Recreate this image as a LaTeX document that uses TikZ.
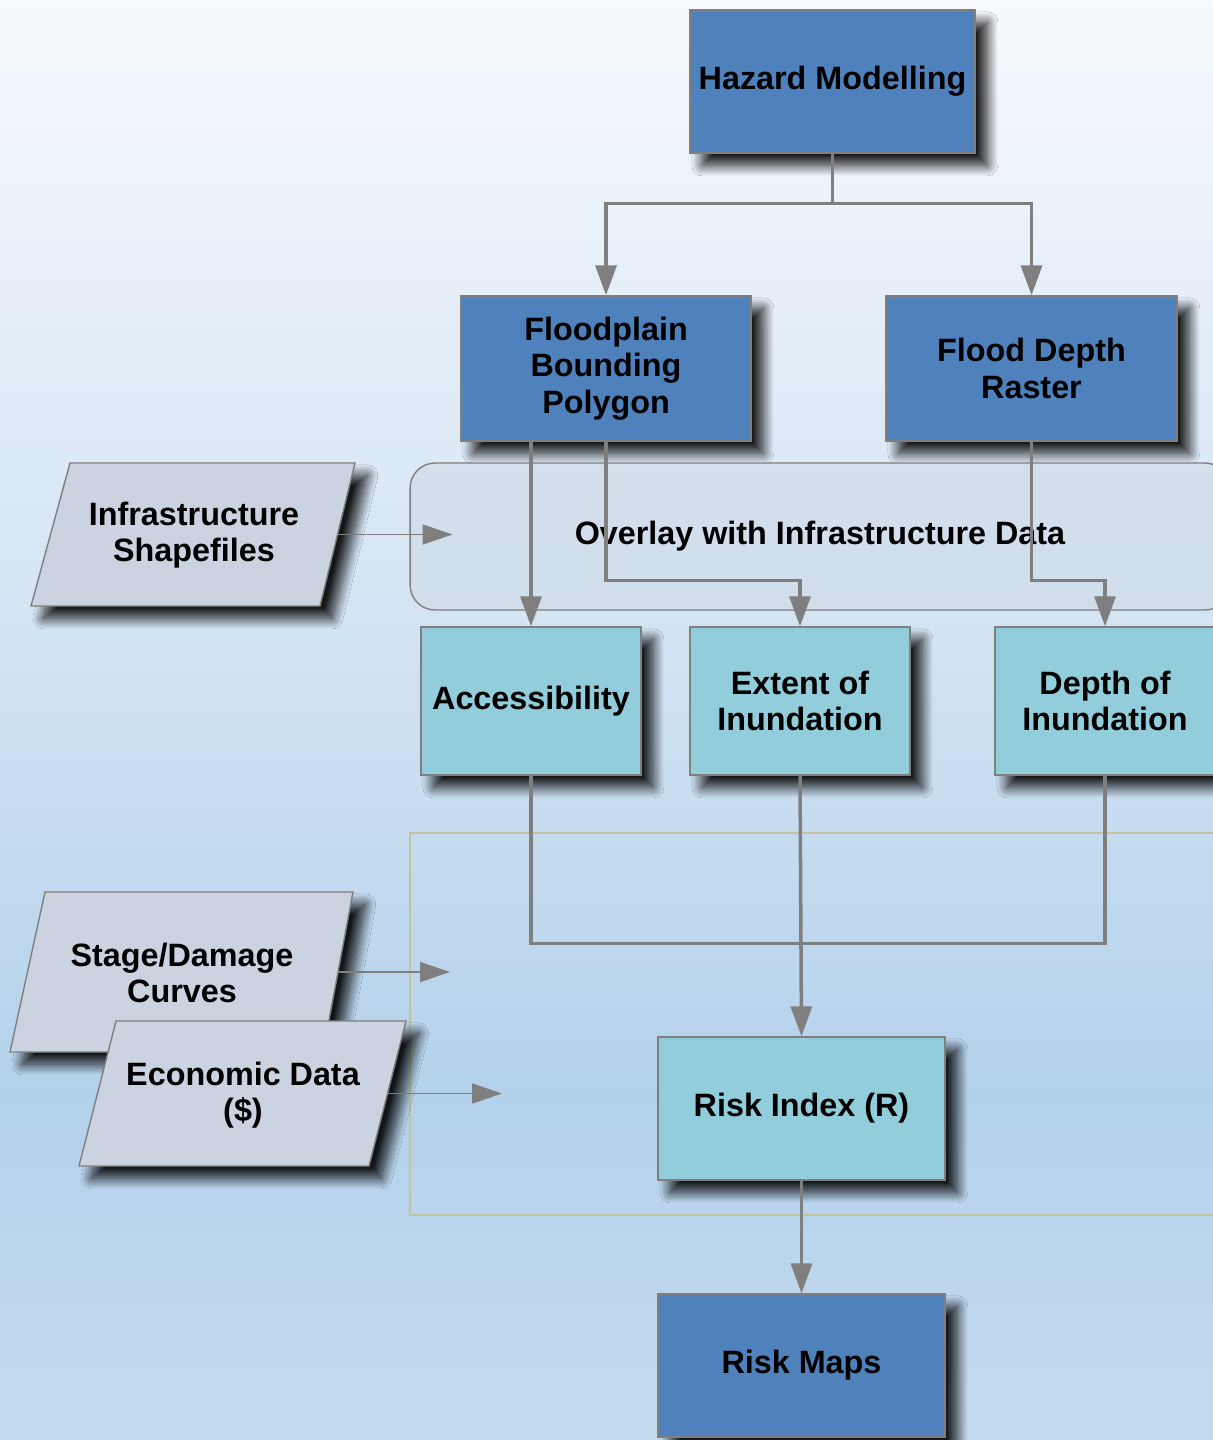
\documentclass[tikz,border=0pt]{standalone}
\usepackage{fontspec}
\setmainfont{Liberation Sans}
\usetikzlibrary{arrows.meta,shadows.blur}
\definecolor{hazblue}{HTML}{4F81BD}
\definecolor{resteal}{HTML}{92CDDC}
\definecolor{datagray}{HTML}{CBD3E0}
\definecolor{edgegray}{HTML}{7F7F7F}
\definecolor{overlayfill}{HTML}{D0DCE8}
\definecolor{framecol}{HTML}{C3C39B}
\definecolor{bgtop}{HTML}{F6F9FD}
\definecolor{bgmid}{HTML}{CFE1F2}
\definecolor{bglow}{HTML}{B4D1EB}
\definecolor{bgbot}{HTML}{C4DAEE}
\pgfdeclareverticalshading{bgshade}{100bp}{color(0bp)=(bgbot); color(25bp)=(bgbot); color(37bp)=(bglow); color(51bp)=(bgmid); color(75bp)=(bgtop); color(100bp)=(bgtop)}
\tikzset{
	boxfont/.style={font=\fontsize{18.4}{20.7}\selectfont\bfseries, align=center},
	shadowed/.style={blur shadow={shadow xshift=7pt, shadow yshift=-7pt, shadow blur radius=6pt, shadow blur steps=20, shadow opacity=90}},
	box/.style={draw=edgegray, line width=0.8pt, boxfont, inner sep=2pt, shadowed},
	bluebox/.style={box, fill=hazblue, minimum width=5.7cm, minimum height=2.86cm},
	tealbox/.style={box, fill=resteal, minimum width=4.4cm, minimum height=2.96cm},
	databox/.style={draw=edgegray, line width=0.8pt, fill=datagray, shadowed},
	link/.style={draw=edgegray, line width=2pt, -{Triangle[length=0.6cm,width=0.42cm]}},
	plainlink/.style={draw=edgegray, line width=2pt},
	feed/.style={draw=edgegray, line width=1pt, -{Triangle[length=0.6cm,width=0.4cm]}}
}
\begin{document}
\begin{tikzpicture}[x=0.02cm,y=-0.02cm]
	\useasboundingbox (0,0) rectangle (1213,1440);
	\clip (0,0) rectangle (1213,1440);
	\shade[shading=bgshade] (0,0) rectangle (1213,1440);
	% top row
	\node[bluebox] (hazard) at (832.5,81.5) {Hazard Modelling};
	\node[bluebox, minimum width=5.8cm, minimum height=2.9cm] (flood) at (606,368.5) {Floodplain\\Bounding\\Polygon};
	\node[bluebox, minimum width=5.82cm, minimum height=2.9cm] (depthras) at (1031.5,368.5) {Flood Depth\\Raster};
	% overlay step
	\node[draw=edgegray, line width=0.8pt, fill=overlayfill, fill opacity=0.75, text opacity=1, rounded corners=0.5cm,
		minimum width=16.4cm, minimum height=2.94cm, boxfont] (overlay) at (820,536.5) {Overlay with Infrastructure Data};
	\draw[databox] (70,463) -- (355,463) -- (320,606) -- (31,606) -- cycle;
	\node[boxfont] (infra) at (194,535) {Infrastructure\\Shapefiles};
	\coordinate (infraout) at (337.5,534.5);
	\node[tealbox] (access) at (531,701) {Accessibility};
	\node[tealbox] (extent) at (800,701) {Extent of\\Inundation};
	\node[tealbox] (depth) at (1105,701) {Depth of\\Inundation};
	% risk step
	\draw[framecol, line width=0.8pt] (410,833) rectangle (1230,1215);
	\draw[databox] (45,892) -- (353,892) -- (323,1052) -- (10,1052) -- cycle;
	\node[boxfont] (stage) at (182,973) {Stage/Damage\\Curves};
	\coordinate (stageout) at (338,972);
	\draw[databox] (116,1021) -- (406,1021) -- (369,1166) -- (79,1166) -- cycle;
	\node[boxfont] (econ) at (243,1095) {Economic Data\\(\$)};
	\coordinate (econout) at (387.5,1093.5);
	\node[tealbox, minimum width=5.74cm, minimum height=2.86cm] (risk) at (801.5,1108.5) {Risk Index (R)};
	\node[bluebox, minimum width=5.74cm, minimum height=2.86cm] (maps) at (801.5,1365.5) {Risk Maps};
	% connectors
	\draw[plainlink] (hazard.south) -- ++(0,50) coordinate (split);
	\draw[link] (split) -| (flood.north);
	\draw[link] (split) -| (depthras.north);
	\draw[link] (access.north |- flood.south) -- (access.north);
	\draw[link] (flood.south) -- ++(0,139) -| (extent.north);
	\draw[link] (depthras.south) -- ++(0,139) -| (depth.north);
	\draw[plainlink] (access.south) -- ++(0,168) -| (depth.south);
	\draw[link] (extent.south) -- (risk.north);
	\draw[link] (risk.south) -- (maps.north);
	\draw[feed] (infraout) -- ++(115,0);
	\draw[feed] (stageout) -- ++(112,0);
	\draw[feed] (econout) -- ++(114.5,0);
\end{tikzpicture}
\end{document}
